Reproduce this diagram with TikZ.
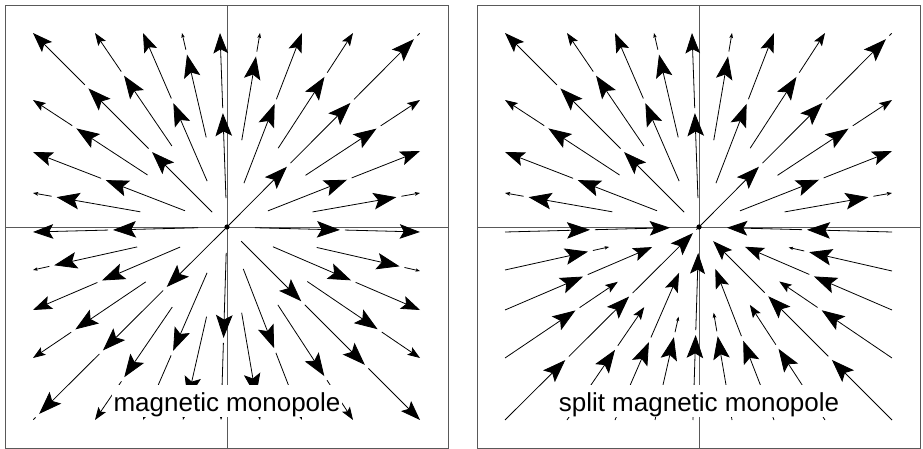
\documentclass[tikz,border=0pt]{standalone}
\usepackage{fontspec}
\setmainfont{Liberation Sans}
\usetikzlibrary{arrows.meta}

\tikzset{
  frameline/.style={draw=black!65, line width=1pt},
  streamline/.style={line width=0.8pt},
  panellabel/.style={fill=white, inner xsep=2pt, inner ysep=0pt,
    text height=26pt, text depth=6pt, anchor=base,
    font=\fontsize{26}{30}\selectfont},
}

% one field line: centre x, centre y, end dx, end dy, inner radius, 1 = out / -1 = in
\newcommand\fieldline[6]{%
  \pgfmathsetmacro\rout{veclen(#3,#4)}%
  \pgfmathsetmacro\ux{#3/\rout}%
  \pgfmathsetmacro\uy{#4/\rout}%
  \foreach \k in {0,...,3}{%
    \ifnum#6>0
      \pgfmathsetmacro\sa{#5+90*\k}%
      \pgfmathsetmacro\sb{min(\sa+85,\rout)}%
    \else
      \pgfmathsetmacro\sa{\rout-90*\k}%
      \pgfmathsetmacro\sb{max(\sa-85,#5)}%
    \fi
    \pgfmathsetmacro\hl{0.27*abs(\sb-\sa)*((#6)*(\sb-\sa)>0)}%
    \pgfmathsetmacro\hw{0.72*\hl}%
    \pgfmathsetmacro\hi{0.2*\hl}%
    \ifdim\hl pt>0.2pt
      \draw[streamline, -{Stealth[length=\hl pt, width=\hw pt, inset=\hi pt]}]
        ({#1+\sa*\ux},{#2+\sa*\uy}) -- ({#1+\sb*\ux},{#2+\sb*\uy});
    \fi
  }%
}

\begin{document}
\begin{tikzpicture}[x=1pt,y=-1pt]
  \useasboundingbox (0,0) rectangle (923,449);

  % Frames and axes
  \draw[frameline] (5,6) rectangle (448,448);
  \draw[frameline] (227,6) -- (227,448);
  \draw[frameline] (5,227) -- (448,227);

  \draw[frameline] (477,6) rectangle (920,448);
  \draw[frameline] (699,6) -- (699,448);
  \draw[frameline] (477,227) -- (920,227);

  % Upper half: outward in both panels
  \foreach \dx/\dy/\rin in {-194/-194/21, -194/-127/95, -194/-75/45, -194/-34/88,
      -132/-194/98, -84/-194/50, -45/-194/92, -7/-194/29, 33/-194/88, 75/-194/47,
      126/-194/94, 193/-194/0, 193/-127/94, 193/-76/44, 193/-34/87}{
    \fieldline{227}{227}{\dx}{\dy}{\rin}{1}
    \fieldline{699}{227}{\dx}{\dy}{\rin}{1}
  }

  % Lower half: outward on the left, inward on the right
  \foreach \dx/\dy/\rin in {-194/5/29, 193/5/28, -194/43/92, -194/83/51, -194/131/98,
      -194/193/0, -132/193/97, -84/193/50, -44/193/92, -6/193/26, 33/193/87,
      75/193/45, 126/193/93, 193/193/20, 193/131/97, 193/83/50, 193/44/92}{
    \fieldline{227}{227}{\dx}{\dy}{\rin}{1}
    \fieldline{699}{227}{\dx}{\dy}{\rin}{-1}
  }

  % Poles
  \fill (227,227) circle (2.6);
  \fill (699,227) circle (2.6);

  % Labels
  \node[panellabel] (monopole) at (227,411) {magnetic monopole};
  \node[panellabel] (splitmonopole) at (699,411) {split magnetic monopole};

\end{tikzpicture}
\end{document}
